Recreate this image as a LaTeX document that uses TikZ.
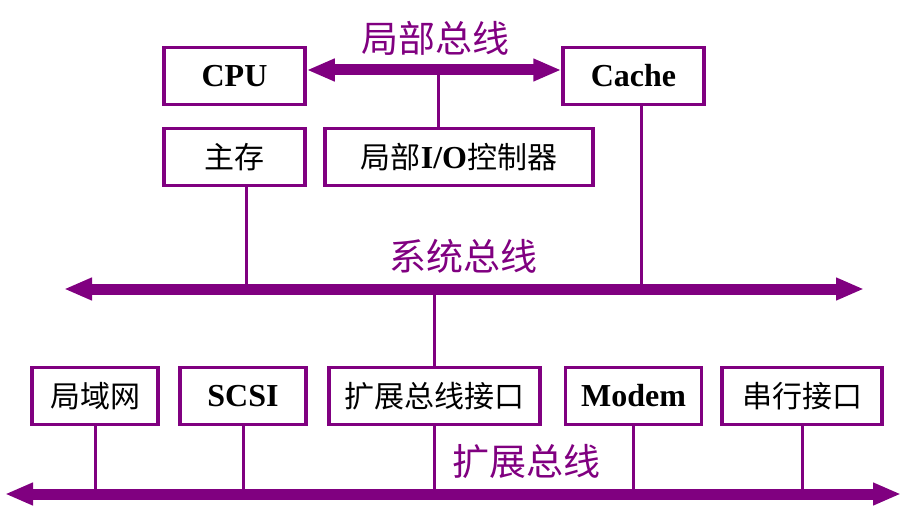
\documentclass[tikz,border=0pt]{standalone}
\usepackage{fontspec}
\setmainfont{Liberation Serif}
\newfontfamily\cjk{Noto Sans CJK SC}
\usetikzlibrary{arrows.meta, positioning, calc}
\definecolor{busviolet}{HTML}{800080}
\newcommand{\zh}[1]{{\cjk\mdseries\fontsize{30}{34}\selectfont #1}}

\begin{document}
\begin{tikzpicture}[x=1pt, y=-1pt,
    unit/.style={rectangle, draw=busviolet, line width=3.5pt, minimum height=57pt,
                 inner sep=0pt, align=center, font=\fontsize{32}{36}\selectfont\bfseries},
    bus/.style={{Triangle[length=28pt, width=21pt]}-{Triangle[length=28pt, width=21pt]},
                line width=11pt, busviolet},
    tap/.style={line width=3pt, busviolet},
    buslabel/.style={font=\fontsize{37}{40}\selectfont\cjk, text=busviolet, inner sep=0pt},
]
    \useasboundingbox (0,0) rectangle (911,508);

    % Units on the local bus
    \node[unit, minimum width=141pt] (cpu)   at (234.5,76)  {CPU};
    \node[unit, minimum width=141pt] (cache) at (633.5,76)  {Cache};
    \node[unit, minimum width=141pt] (mem)   at (234.5,157) {\zh{主存}};
    \node[unit, minimum width=268pt] (lio)   at (459,157)   {\zh{局部}I/O\zh{控制器}};

    % Units on the expansion bus
    \node[unit, minimum width=126pt] (lan)   at (95,396)    {\zh{局域网}};
    \node[unit, minimum width=126pt] (scsi)  at (243,396)   {SCSI};
    \node[unit, minimum width=211pt] (xif)   at (434.5,396) {\zh{扩展总线接口}};
    \node[unit, minimum width=136pt] (modem) at (633.5,396) {Modem};
    \node[unit, minimum width=160pt] (uart)  at (802,396)   {\zh{串行接口}};

    % Bus ends
    \coordinate (sysL) at (64,289);
    \coordinate (sysR) at (864,289);
    \coordinate (extL) at (5,494);
    \coordinate (extR) at (901,494);
    \coordinate (ltap) at (438,70);

    % Taps
    \draw[tap] (ltap) -- (ltap |- lio.north);
    \draw[tap] ([xshift=11.5pt]mem.south) -- ([xshift=11.5pt]mem.south |- sysL);
    \draw[tap] ([xshift=7.5pt]cache.south) -- ([xshift=7.5pt]cache.south |- sysL);
    \draw[tap] (xif.north |- sysL) -- (xif.north);
    \foreach \u in {lan, scsi, xif, modem, uart}
        \draw[tap] (\u.south) -- (\u.south |- extL);

    % Buses
    \draw[bus] ([yshift=6pt]cpu.east) -- ([yshift=6pt]cache.west);
    \draw[bus] (sysL) -- (sysR);
    \draw[bus] (extL) -- (extR);

    % Bus labels
    \node[buslabel] (lbus) at (435,38)  {局部总线};
    \node[buslabel] (sbus) at (463,256) {系统总线};
    \node[buslabel] (ebus) at (526,461) {扩展总线};
\end{tikzpicture}
\end{document}
